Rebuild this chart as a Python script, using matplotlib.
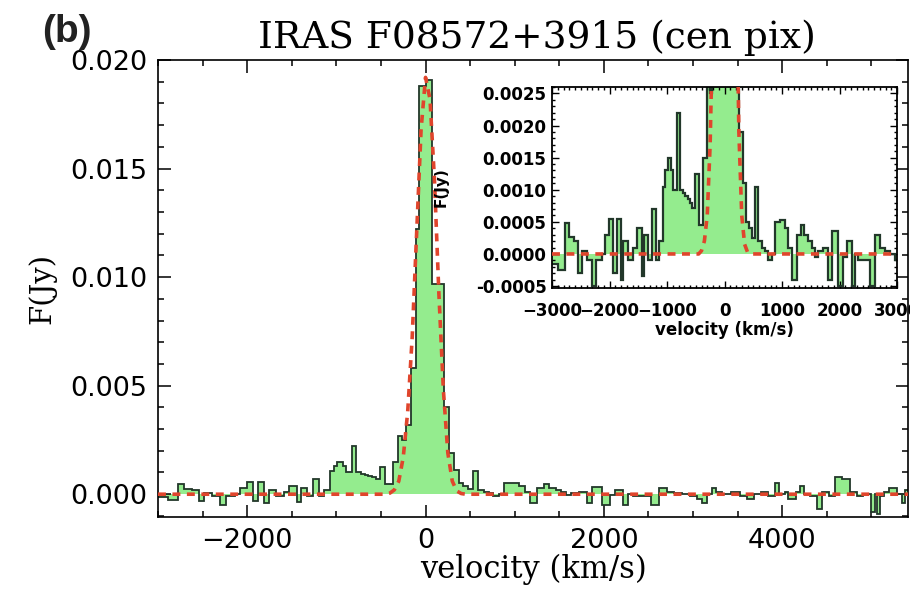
import numpy as np
import matplotlib
matplotlib.use('Agg')
import matplotlib.pyplot as plt
from matplotlib.ticker import MultipleLocator, FormatStrFormatter

# # # # # # # # # # # # #    DATA    # # # # # # # # # # # # #

# spectrum bin edges (km/s) and flux per bin (Jy)
edges = [-3000, -2890, -2775, -2705, -2617, -2542, -2484, -2397, -2310, -2241,
         -2136, -2078, -2003, -1933, -1875, -1806, -1759, -1672, -1586, -1528,
         -1441, -1400, -1325, -1267, -1191, -1133, -1070, -1030, -990, -930,
         -890, -820, -775, -720, -680, -640, -600, -560, -510, -450,
         -370, -310, -260, -215, -160, -112, -75, 0, 75, 205,
         260, 316, 370, 420, 480, 530, 590, 650, 710, 760,
         820, 878, 965, 1052, 1110, 1168, 1255, 1330, 1388, 1458,
         1516, 1574, 1632, 1720, 1806, 1864, 1980, 2066, 2124, 2211,
         2269, 2327, 2443, 2530, 2617, 2704, 2791, 2878, 2965, 3040,
         3100, 3160, 3210, 3260, 3320, 3420, 3530, 3600, 3680, 3760,
         3840, 3920, 3960, 4030, 4070, 4150, 4200, 4240, 4310, 4385,
         4445, 4520, 4590, 4670, 4760, 4835, 4905, 5000, 5040, 5060,
         5100, 5140, 5200, 5285, 5340, 5380, 5450]
flux = [-0.00015, -0.00025, 0.00048, 0.00026, 0.0002, -0.0003, 0.00005, -0.0001, -0.0005,
        -0.0001, 0.0, 0.0003, 0.00055, -0.0003, 0.00055, -0.0004, 0.0002, -0.0001, 0.0001,
        0.0004, -0.00035, 0.0003, -0.0001, 0.0007, -0.0001, 0.0002,
        0.00105, 0.0013, 0.0015, 0.0013, 0.001, 0.0022, 0.001, 0.00095, 0.0009, 0.00085,
        0.0008, 0.00072, 0.00125, 0.00045,
        0.0015, 0.0027, 0.0025, 0.0032, 0.0058, 0.0122, 0.0188, 0.0191, 0.0097, 0.0040,
        0.0019, 0.0011, 0.0005, 0.0004, 0.00025, 0.00105, 0.0002,
        0.0001, 0.00005, -0.0001, 0.0, 0.0005, 0.00053, 0.0004, 0.0001, -0.0004, 0.0003,
        0.00045, 0.0003, 0.0002, 0.0001, -0.00005, 0.00005, 0.0001, -0.0004, 0.00035,
        -0.0005, -0.00005, 0.0002, -0.0005, 0.0, -0.0001, -0.0001, -0.0005, 0.0003,
        0.0001, 0.00005, 0.0, -0.0001, -0.0002, -0.0004, 0.0, 0.0003, 0.0001, 0.0,
        0.0001, -0.0001, -0.0002, 0.0, 0.0001, -0.0001, 0.0005, 0.0, 0.0001, -0.0002,
        0.0001, 0.0004, 0.0, -0.0001, -0.0007, 0.0001, -0.0001, 0.0008, 0.0007, 0.0001,
        -0.0001, 0.0, -0.0008, 0.0, -0.0009, -0.0001, 0.0001, 0.0003, 0.0, -0.0004, 0.0002]

# gaussian fit (red dashed), sampled from the figure
fit_v = [-3000, -450, -400, -350, -300, -250, -200, -150, -100, -50, 0,
         50, 100, 150, 200, 250, 300, 350, 400, 450, 5450]
fit_f = [0, 0, 0.00005, 0.0002, 0.0006, 0.0017, 0.0038, 0.0072, 0.0120, 0.0168, 0.0192,
         0.0182, 0.0145, 0.0092, 0.0048, 0.0019, 0.0006, 0.00015, 0.00003, 0, 0]

title = 'IRAS F08572+3915 (cen pix)'
fill_col = '#94ec8e'
line_col = '#22372a'
fit_col = '#e0452c'

# # # # # # # # # # # # #    FIGURE    # # # # # # # # # # # # #

fig = plt.figure(figsize=(9.1, 6.01), dpi=100)
ax = fig.add_axes([158/910, 1 - 517/601, 750/910, 457/601])


def draw_spec(a, lw):
    a.stairs(flux, edges, fill=True, color=fill_col, zorder=1)
    a.stairs(flux, edges, baseline=None, color=line_col, lw=lw, zorder=2)
    a.plot(fit_v, fit_f, color=fit_col, lw=2.6, ls=(0, (2.2, 1.8)), zorder=3)


draw_spec(ax, 1.3)
ax.set_xlim(-3000, 5410)
ax.set_ylim(-0.00105, 0.0200)
ax.xaxis.set_major_locator(MultipleLocator(2000))
ax.xaxis.set_minor_locator(MultipleLocator(500))
ax.yaxis.set_major_locator(MultipleLocator(0.005))
ax.yaxis.set_minor_locator(MultipleLocator(0.001))
ax.yaxis.set_major_formatter(FormatStrFormatter('%.3f'))
ax.tick_params(which='both', direction='in', top=True, right=True, width=1.1)
ax.tick_params(which='major', length=9, labelsize=19.5, pad=8)
ax.tick_params(which='minor', length=4.5)
for s in ax.spines.values():
    s.set_linewidth(1.2)
ax.set_xlabel('velocity (km/s)', family='DejaVu Serif', fontsize=22, labelpad=0)
ax.set_ylabel('F(Jy)', family='DejaVu Serif', fontsize=21, labelpad=10)
fig.text(537/910, 1 - 38/601, title, family='DejaVu Serif', fontsize=27,
         ha='center', va='center')
fig.text(67/910, 1 - 32/601, '(b)', family='Liberation Sans', weight='bold',
         fontsize=28, ha='center', va='center', color='#222222')

# inset zoom on the wings
ax_in = fig.add_axes([552/910, 1 - 288/601, 345/910, 201/601])
draw_spec(ax_in, 1.6)
ax_in.set_xlim(-3000, 3000)
ax_in.set_ylim(-0.00053, 0.00260)
ax_in.xaxis.set_major_locator(MultipleLocator(1000))
ax_in.xaxis.set_minor_locator(MultipleLocator(100))
ax_in.yaxis.set_major_locator(MultipleLocator(0.0005))
ax_in.yaxis.set_minor_locator(MultipleLocator(0.0001))
ax_in.yaxis.set_major_formatter(FormatStrFormatter('%.4f'))
ax_in.tick_params(which='both', direction='in', top=True, right=True, width=1.0)
ax_in.tick_params(which='major', length=5, labelsize=12, pad=4)
ax_in.tick_params(axis='x', which='major', pad=10)
ax_in.tick_params(which='minor', length=2.5)
for lab in ax_in.get_xticklabels() + ax_in.get_yticklabels():
    lab.set_fontweight('bold')
for s in ax_in.spines.values():
    s.set_linewidth(1.3)
ax_in.set_xlabel('velocity (km/s)', fontsize=12, weight='bold', labelpad=1)
fig.text(441/910, 1 - 187/601, 'F(Jy)', fontsize=11, weight='bold',
         rotation=90, ha='center', va='center')

fig.savefig('out.png', dpi=100)
